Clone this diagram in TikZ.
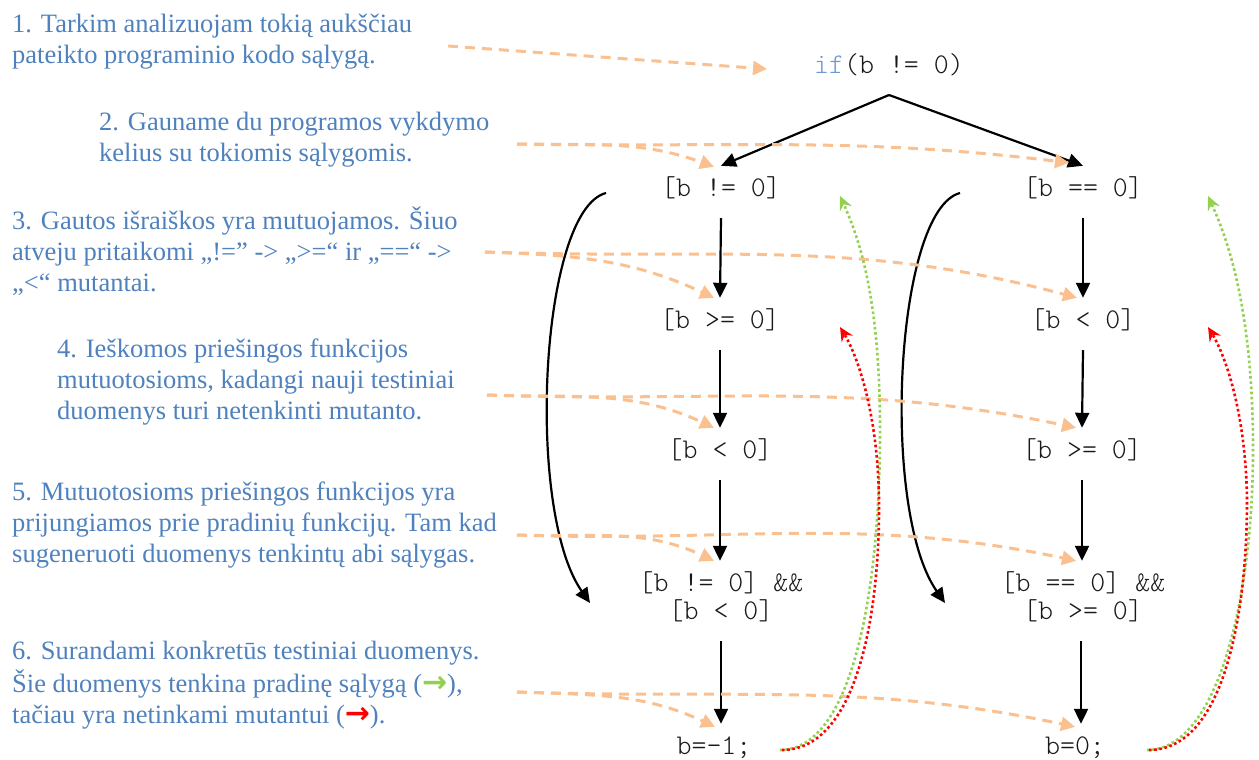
\documentclass[tikz,border=0pt]{standalone}
\usepackage{fontspec}
\setmainfont{Liberation Serif}
\newfontfamily\codefont{lmmonolt10-regular.otf}
\newfontfamily\symfont{DejaVu Sans}
\usetikzlibrary{arrows.meta,calc}
\definecolor{txtblue}{RGB}{79,129,189}
\definecolor{ifblue}{RGB}{108,150,214}
\definecolor{dashor}{RGB}{250,192,143}
\definecolor{dotgreen}{RGB}{146,208,80}
\definecolor{dotred}{RGB}{255,0,0}
\definecolor{codegray}{RGB}{25,25,25}
\begin{document}
\begin{tikzpicture}[x=1pt,y=-1pt,
  expl/.style={anchor=north west,inner sep=0pt,align=left,text=txtblue,
    font=\fontsize{26.5}{31}\selectfont},
  code/.style={anchor=base,inner xsep=2pt,inner ysep=6pt,text height=24pt,text depth=16pt,
    text=codegray,font=\codefont\fontsize{28.5}{28}\selectfont},
  flow/.style={line width=2.2pt,-{Triangle[length=15pt,width=14pt]}},
  hint/.style={dashor,line width=3pt,dash pattern=on 10pt off 7pt,-{Triangle[length=14pt,width=14pt]}},
  okline/.style={dotgreen,line width=2.6pt,dash pattern=on 2.6pt off 2.6pt,-{Stealth[length=14pt,width=13pt,inset=5pt]}},
  badline/.style={dotred,line width=2.6pt,dash pattern=on 2.6pt off 2.6pt,-{Stealth[length=14pt,width=13pt,inset=5pt]}}]
\useasboundingbox (0,0) rectangle (1259,760);

% explanation texts
\node[expl] (e1) at (12,11) {\strut 1. Tarkim analizuojam tokią aukščiau\\pateikto programinio kodo sąlygą.};
\node[expl] (e2) at (99,109) {\strut 2. Gauname du programos vykdymo\\kelius su tokiomis sąlygomis.};
\node[expl] (e3) at (12,207) {\strut 3. Gautos išraiškos yra mutuojamos. Šiuo\\atveju pritaikomi „!=” -> „>=“ ir „==“ ->\\„<“ mutantai.};
\node[expl] (e4) at (57,336) {\strut 4. Ieškomos priešingos funkcijos\\mutuotosioms, kadangi nauji testiniai\\duomenys turi netenkinti mutanto.};
\node[expl] (e5) at (12,479) {\strut 5. Mutuotosioms priešingos funkcijos yra\\prijungiamos prie pradinių funkcijų. Tam kad\\sugeneruoti duomenys tenkintų abi sąlygas.};
\node[expl] (e6) at (12,638) {\strut 6. Surandami konkretūs testiniai duomenys.\\Šie duomenys tenkina pradinę sąlygą ({\symfont\bfseries\fontsize{30}{31}\selectfont\color{dotgreen}→}),\\tačiau yra netinkami mutantui ({\symfont\bfseries\fontsize{30}{31}\selectfont\color{dotred}→}).};

% code nodes
\node[code] (if) at (889,74) {{\color{ifblue}if}(b != 0)};
\node[code] (ln1) at (721,196) {[b != 0]};
\node[code] (rn1) at (1083,196) {[b == 0]};
\node[code] (ln2) at (720,328) {[b >= 0]};
\node[code] (rn2) at (1083,328) {[b < 0]};
\node[code] (ln3) at (720,458) {[b < 0]};
\node[code] (rn3) at (1082,458) {[b >= 0]};
\node[code] (la) at (721,591) {[b != 0] \&\&};
\node[code] (lb) at (721,619) {[b < 0]};
\node[code] (ra) at (1083,591) {[b == 0] \&\&};
\node[code] (rb) at (1083,619) {[b >= 0]};
\node[code] (lr) at (714,754) {b=-1;};
\node[code] (rr) at (1075,754) {b=0;};

% branch
\coordinate (apex) at (889,95);
\draw[flow] (apex) -- (ln1.north);
\draw[flow] (apex) -- (rn1.north);

% vertical flow
\draw[flow] (ln1.south) -- (ln2.north);
\draw[flow] (ln2.south) -- (ln3.north);
\draw[flow] (ln3.south) -- (ln3.south |- la.north);
\draw[flow] (lb.south) -- (lb.south |- lr.north);
\draw[flow] (rn1.south) -- (rn2.north);
\draw[flow] (rn2.south) -- (rn3.north);
\draw[flow] (rn3.south) -- (rn3.south |- ra.north);
\draw[flow] ($(rb.south)+(-2,0)$) -- ($(rb.south |- rr.north)+(-2,0)$);

% curved jumps
\draw[flow] ($(ln1.base)+(-115,-3)$) .. controls (540,210) and (525,510) .. ($(la.base)+(-131,12)$);
\draw[flow] ($(rn1.base)+(-123,-3)$) .. controls (895,210) and (880,510) .. ($(ra.base)+(-138,12)$);

% hint arrows
\coordinate (s1) at (448,46);
\coordinate (s2) at (517,144);
\coordinate (s3) at (485,252);
\coordinate (s4) at (487,395);
\coordinate (s5) at (517,535);
\coordinate (s6) at (517,692);
\draw[hint] (s1) -- ($(if.base)+(-122,-5)$);
\draw[hint] (s2) to[out=-1,in=160] ($(ln1.north)+(-7,1)$);
\draw[hint] (s2) to[out=-1,in=173] ($(rn1.north)+(-14,-3)$);
\draw[hint] (s3) to[out=-2,in=155] ($(ln2.north)+(-6,0)$);
\draw[hint] (s3) to[out=-2,in=165] ($(rn2.north)+(-6,0)$);
\draw[hint] (s4) to[out=-2,in=155] ($(ln3.north)+(-6,0)$);
\draw[hint] (s4) to[out=-2,in=168] ($(rn3.north)+(-6,0)$);
\draw[hint] (s5) to[out=-2,in=155] ($(ln3.south |- la.north)+(-6,0)$);
\draw[hint] (s5) to[out=-2,in=168] ($(rn3.south |- ra.north)+(-6,0)$);
\draw[hint] (s6) to[out=-2,in=155] ($(lb.south |- lr.north)+(-6,3)$);
\draw[hint] (s6) to[out=-2,in=168] ($(rb.south |- rr.north)+(-8,3)$);

% dotted feedback curves
\coordinate (lgt) at (840,196);
\coordinate (lrt) at (840,327);
\coordinate (rgt) at (1208,196);
\coordinate (rrt) at (1208,327);
\draw[okline] ($(lr.base)+(66,-4)$) .. controls (850,750) and (880,600) .. (880,430) .. controls (880,300) and (860,240) .. (lgt);
\draw[badline] ($(lr.base)+(68,-4)$) .. controls (855,750) and (880,620) .. (879,500) .. controls (878,420) and (860,360) .. (lrt);
\draw[okline] ($(rr.base)+(72,-4)$) .. controls (1217,750) and (1253,600) .. (1253,450) .. controls (1253,310) and (1228,240) .. (rgt);
\draw[badline] ($(rr.base)+(74,-4)$) .. controls (1222,750) and (1247,620) .. (1247,500) .. controls (1246,420) and (1228,360) .. (rrt);
\end{tikzpicture}
\end{document}
